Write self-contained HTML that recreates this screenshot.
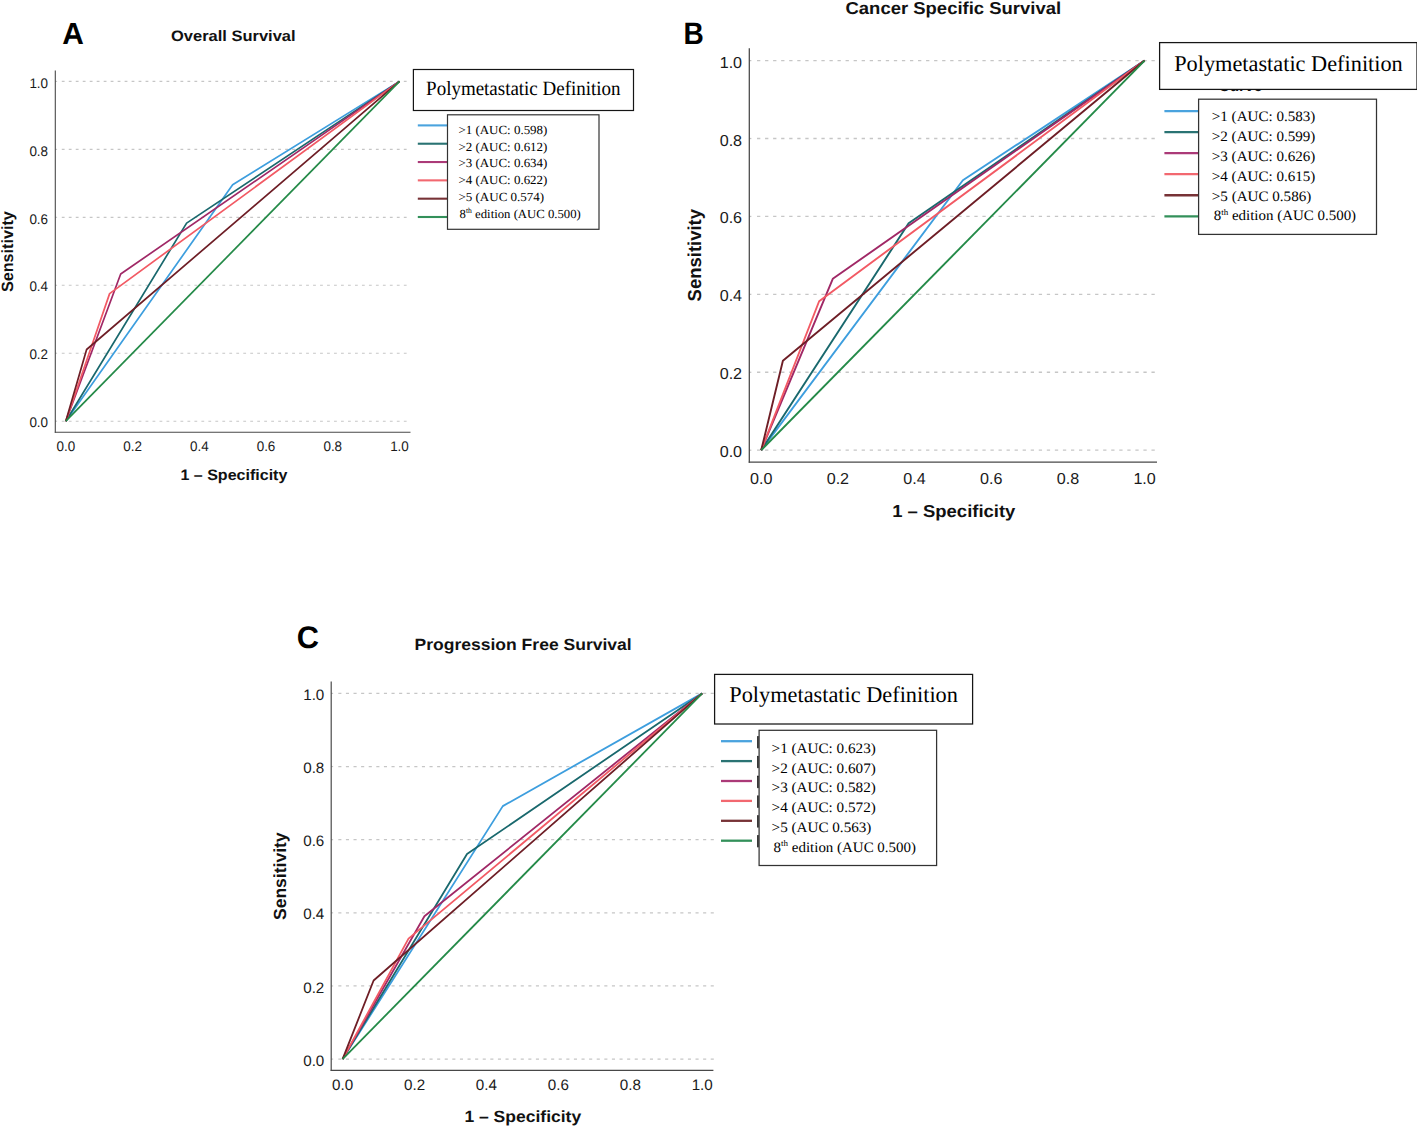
<!DOCTYPE html>
<html><head><meta charset="utf-8"><title>ROC curves</title>
<style>html,body{margin:0;padding:0;background:#fff;}body{width:1417px;height:1126px;overflow:hidden;}svg{display:block;text-rendering:geometricPrecision;}</style>
</head><body>
<svg width="1417" height="1126" viewBox="0 0 1417 1126">
<rect x="0" y="0" width="1417" height="1126" fill="#fff"/>
<line x1="61.8" y1="421.2" x2="407" y2="421.2" stroke="#c6c6c6" stroke-width="1.15" stroke-dasharray="2.8 4.18"/>
<line x1="55.3" y1="421.2" x2="57.1" y2="421.2" stroke="#c2c2c2" stroke-width="1.1"/>
<line x1="61.8" y1="353.24" x2="407" y2="353.24" stroke="#c6c6c6" stroke-width="1.15" stroke-dasharray="2.8 4.18"/>
<line x1="55.3" y1="353.24" x2="57.1" y2="353.24" stroke="#c2c2c2" stroke-width="1.1"/>
<line x1="61.8" y1="285.28" x2="407" y2="285.28" stroke="#c6c6c6" stroke-width="1.15" stroke-dasharray="2.8 4.18"/>
<line x1="55.3" y1="285.28" x2="57.1" y2="285.28" stroke="#c2c2c2" stroke-width="1.1"/>
<line x1="61.8" y1="217.32" x2="407" y2="217.32" stroke="#c6c6c6" stroke-width="1.15" stroke-dasharray="2.8 4.18"/>
<line x1="55.3" y1="217.32" x2="57.1" y2="217.32" stroke="#c2c2c2" stroke-width="1.1"/>
<line x1="61.8" y1="149.36" x2="407" y2="149.36" stroke="#c6c6c6" stroke-width="1.15" stroke-dasharray="2.8 4.18"/>
<line x1="55.3" y1="149.36" x2="57.1" y2="149.36" stroke="#c2c2c2" stroke-width="1.1"/>
<line x1="61.8" y1="81.4" x2="407" y2="81.4" stroke="#c6c6c6" stroke-width="1.15" stroke-dasharray="2.8 4.18"/>
<line x1="55.3" y1="81.4" x2="57.1" y2="81.4" stroke="#c2c2c2" stroke-width="1.1"/>
<line x1="55.3" y1="70.6" x2="55.3" y2="432.8" stroke="#484848" stroke-width="1.1"/>
<line x1="54.8" y1="432.3" x2="410.5" y2="432.3" stroke="#484848" stroke-width="1.1"/>
<text x="48.1" y="427.2" font-family='"Liberation Sans", sans-serif' font-size="14" font-weight="normal" text-anchor="end" fill="#1a1a1a" textLength="18.7" lengthAdjust="spacingAndGlyphs">0.0</text>
<text x="65.8" y="450.7" font-family='"Liberation Sans", sans-serif' font-size="14" font-weight="normal" text-anchor="middle" fill="#1a1a1a" textLength="18.7" lengthAdjust="spacingAndGlyphs">0.0</text>
<text x="48.1" y="359.32" font-family='"Liberation Sans", sans-serif' font-size="14" font-weight="normal" text-anchor="end" fill="#1a1a1a" textLength="18.7" lengthAdjust="spacingAndGlyphs">0.2</text>
<text x="132.54" y="450.7" font-family='"Liberation Sans", sans-serif' font-size="14" font-weight="normal" text-anchor="middle" fill="#1a1a1a" textLength="18.7" lengthAdjust="spacingAndGlyphs">0.2</text>
<text x="48.1" y="291.44" font-family='"Liberation Sans", sans-serif' font-size="14" font-weight="normal" text-anchor="end" fill="#1a1a1a" textLength="18.7" lengthAdjust="spacingAndGlyphs">0.4</text>
<text x="199.28" y="450.7" font-family='"Liberation Sans", sans-serif' font-size="14" font-weight="normal" text-anchor="middle" fill="#1a1a1a" textLength="18.7" lengthAdjust="spacingAndGlyphs">0.4</text>
<text x="48.1" y="223.56" font-family='"Liberation Sans", sans-serif' font-size="14" font-weight="normal" text-anchor="end" fill="#1a1a1a" textLength="18.7" lengthAdjust="spacingAndGlyphs">0.6</text>
<text x="266.02" y="450.7" font-family='"Liberation Sans", sans-serif' font-size="14" font-weight="normal" text-anchor="middle" fill="#1a1a1a" textLength="18.7" lengthAdjust="spacingAndGlyphs">0.6</text>
<text x="48.1" y="155.68" font-family='"Liberation Sans", sans-serif' font-size="14" font-weight="normal" text-anchor="end" fill="#1a1a1a" textLength="18.7" lengthAdjust="spacingAndGlyphs">0.8</text>
<text x="332.76" y="450.7" font-family='"Liberation Sans", sans-serif' font-size="14" font-weight="normal" text-anchor="middle" fill="#1a1a1a" textLength="18.7" lengthAdjust="spacingAndGlyphs">0.8</text>
<text x="48.1" y="87.8" font-family='"Liberation Sans", sans-serif' font-size="14" font-weight="normal" text-anchor="end" fill="#1a1a1a" textLength="18.7" lengthAdjust="spacingAndGlyphs">1.0</text>
<text x="399.5" y="450.7" font-family='"Liberation Sans", sans-serif' font-size="14" font-weight="normal" text-anchor="middle" fill="#1a1a1a" textLength="18.7" lengthAdjust="spacingAndGlyphs">1.0</text>
<polyline points="65.8,421.2 232.65,184.8 399.5,81.4" fill="none" stroke="#3d9ede" stroke-width="1.7" stroke-linejoin="round"/>
<polyline points="65.8,421.2 186.6,223.1 399.5,81.4" fill="none" stroke="#19686d" stroke-width="1.7" stroke-linejoin="round"/>
<polyline points="65.8,421.2 120.69,274 399.5,81.4" fill="none" stroke="#a02866" stroke-width="1.7" stroke-linejoin="round"/>
<polyline points="65.8,421.2 109.61,293.61 399.5,81.4" fill="none" stroke="#f25a64" stroke-width="1.7" stroke-linejoin="round"/>
<polyline points="65.8,421.2 86.62,349.5 399.5,81.4" fill="none" stroke="#6e1e26" stroke-width="1.7" stroke-linejoin="round"/>
<polyline points="65.8,421.2 399.5,81.4" fill="none" stroke="#248a48" stroke-width="1.7" stroke-linejoin="round"/>
<text x="171" y="40.8" font-family='"Liberation Sans", sans-serif' font-size="15.1" font-weight="bold" text-anchor="start" fill="#111" textLength="124.6" lengthAdjust="spacingAndGlyphs">Overall Survival</text>
<text x="180.4" y="479.6" font-family='"Liberation Sans", sans-serif' font-size="15.1" font-weight="bold" text-anchor="start" fill="#111" textLength="107" lengthAdjust="spacingAndGlyphs">1 &#8211; Specificity</text>
<text transform="translate(13.4,292) rotate(-90)" x="0" y="0" font-family='"Liberation Sans", sans-serif' font-size="16.3" font-weight="bold" fill="#111" textLength="80.8" lengthAdjust="spacingAndGlyphs">Sensitivity</text>
<text x="62.2" y="43.8" font-family='"Liberation Sans", sans-serif' font-size="30.4" font-weight="bold" text-anchor="start" fill="#000" textLength="21.6" lengthAdjust="spacingAndGlyphs">A</text>
<line x1="417.8" y1="125.4" x2="447.5" y2="125.4" stroke="#4aa3de" stroke-width="2.1"/>
<line x1="417.8" y1="143.72" x2="447.5" y2="143.72" stroke="#2a7373" stroke-width="2.1"/>
<line x1="417.8" y1="162.04" x2="447.5" y2="162.04" stroke="#ab3a78" stroke-width="2.1"/>
<line x1="417.8" y1="180.36" x2="447.5" y2="180.36" stroke="#f26870" stroke-width="2.1"/>
<line x1="417.8" y1="198.68" x2="447.5" y2="198.68" stroke="#773236" stroke-width="2.1"/>
<line x1="417.8" y1="217" x2="447.5" y2="217" stroke="#33905a" stroke-width="2.1"/>
<rect x="413.4" y="69.5" width="220.1" height="41" fill="#fff" stroke="#151515" stroke-width="1.2"/>
<text x="426.1" y="94.6" font-family='"Liberation Serif", serif' font-size="20.3" font-weight="normal" text-anchor="start" fill="#000" textLength="194.4" lengthAdjust="spacingAndGlyphs">Polymetastatic Definition</text>
<rect x="447.5" y="114.8" width="151.5" height="114.5" fill="#fff" stroke="#333" stroke-width="1.2"/>
<text x="458.4" y="133.7" font-family='"Liberation Serif", serif' font-size="12.4" font-weight="normal" text-anchor="start" fill="#000" textLength="89" lengthAdjust="spacingAndGlyphs">&gt;1 (AUC: 0.598)</text>
<text x="458.4" y="150.55" font-family='"Liberation Serif", serif' font-size="12.4" font-weight="normal" text-anchor="start" fill="#000" textLength="89" lengthAdjust="spacingAndGlyphs">&gt;2 (AUC: 0.612)</text>
<text x="458.4" y="167.4" font-family='"Liberation Serif", serif' font-size="12.4" font-weight="normal" text-anchor="start" fill="#000" textLength="89" lengthAdjust="spacingAndGlyphs">&gt;3 (AUC: 0.634)</text>
<text x="458.4" y="184.25" font-family='"Liberation Serif", serif' font-size="12.4" font-weight="normal" text-anchor="start" fill="#000" textLength="89" lengthAdjust="spacingAndGlyphs">&gt;4 (AUC: 0.622)</text>
<text x="458.4" y="201.1" font-family='"Liberation Serif", serif' font-size="12.4" font-weight="normal" text-anchor="start" fill="#000" textLength="85.8" lengthAdjust="spacingAndGlyphs">&gt;5 (AUC 0.574)</text>
<text x="459.6" y="217.95" font-family='"Liberation Serif", serif' font-size="12.4" font-weight="normal" text-anchor="start" fill="#000" textLength="121.2" lengthAdjust="spacingAndGlyphs">8<tspan font-size="7.44" dy="-4.71">th</tspan><tspan dy="4.71"> edition (AUC 0.500)</tspan></text>
<line x1="757.01" y1="450.2" x2="1155.5" y2="450.2" stroke="#c6c6c6" stroke-width="1.32" stroke-dasharray="3.3 4.75"/>
<line x1="749.3" y1="450.2" x2="751.36" y2="450.2" stroke="#c2c2c2" stroke-width="1.26"/>
<line x1="757.01" y1="372.28" x2="1155.5" y2="372.28" stroke="#c6c6c6" stroke-width="1.32" stroke-dasharray="3.3 4.75"/>
<line x1="749.3" y1="372.28" x2="751.36" y2="372.28" stroke="#c2c2c2" stroke-width="1.26"/>
<line x1="757.01" y1="294.36" x2="1155.5" y2="294.36" stroke="#c6c6c6" stroke-width="1.32" stroke-dasharray="3.3 4.75"/>
<line x1="749.3" y1="294.36" x2="751.36" y2="294.36" stroke="#c2c2c2" stroke-width="1.26"/>
<line x1="757.01" y1="216.44" x2="1155.5" y2="216.44" stroke="#c6c6c6" stroke-width="1.32" stroke-dasharray="3.3 4.75"/>
<line x1="749.3" y1="216.44" x2="751.36" y2="216.44" stroke="#c2c2c2" stroke-width="1.26"/>
<line x1="757.01" y1="138.52" x2="1155.5" y2="138.52" stroke="#c6c6c6" stroke-width="1.32" stroke-dasharray="3.3 4.75"/>
<line x1="749.3" y1="138.52" x2="751.36" y2="138.52" stroke="#c2c2c2" stroke-width="1.26"/>
<line x1="757.01" y1="60.6" x2="1155.5" y2="60.6" stroke="#c6c6c6" stroke-width="1.32" stroke-dasharray="3.3 4.75"/>
<line x1="749.3" y1="60.6" x2="751.36" y2="60.6" stroke="#c2c2c2" stroke-width="1.26"/>
<line x1="749.3" y1="48.3" x2="749.3" y2="462.67" stroke="#484848" stroke-width="1.26"/>
<line x1="748.73" y1="462.1" x2="1157" y2="462.1" stroke="#484848" stroke-width="1.26"/>
<text x="742.1" y="456.6" font-family='"Liberation Sans", sans-serif' font-size="15.9" font-weight="normal" text-anchor="end" fill="#1a1a1a" textLength="22.4" lengthAdjust="spacingAndGlyphs">0.0</text>
<text x="761.2" y="483.6" font-family='"Liberation Sans", sans-serif' font-size="15.9" font-weight="normal" text-anchor="middle" fill="#1a1a1a" textLength="22.4" lengthAdjust="spacingAndGlyphs">0.0</text>
<text x="742.1" y="378.83" font-family='"Liberation Sans", sans-serif' font-size="15.9" font-weight="normal" text-anchor="end" fill="#1a1a1a" textLength="22.4" lengthAdjust="spacingAndGlyphs">0.2</text>
<text x="837.88" y="483.6" font-family='"Liberation Sans", sans-serif' font-size="15.9" font-weight="normal" text-anchor="middle" fill="#1a1a1a" textLength="22.4" lengthAdjust="spacingAndGlyphs">0.2</text>
<text x="742.1" y="301.01" font-family='"Liberation Sans", sans-serif' font-size="15.9" font-weight="normal" text-anchor="end" fill="#1a1a1a" textLength="22.4" lengthAdjust="spacingAndGlyphs">0.4</text>
<text x="914.56" y="483.6" font-family='"Liberation Sans", sans-serif' font-size="15.9" font-weight="normal" text-anchor="middle" fill="#1a1a1a" textLength="22.4" lengthAdjust="spacingAndGlyphs">0.4</text>
<text x="742.1" y="222.84" font-family='"Liberation Sans", sans-serif' font-size="15.9" font-weight="normal" text-anchor="end" fill="#1a1a1a" textLength="22.4" lengthAdjust="spacingAndGlyphs">0.6</text>
<text x="991.24" y="483.6" font-family='"Liberation Sans", sans-serif' font-size="15.9" font-weight="normal" text-anchor="middle" fill="#1a1a1a" textLength="22.4" lengthAdjust="spacingAndGlyphs">0.6</text>
<text x="742.1" y="146.12" font-family='"Liberation Sans", sans-serif' font-size="15.9" font-weight="normal" text-anchor="end" fill="#1a1a1a" textLength="22.4" lengthAdjust="spacingAndGlyphs">0.8</text>
<text x="1067.92" y="483.6" font-family='"Liberation Sans", sans-serif' font-size="15.9" font-weight="normal" text-anchor="middle" fill="#1a1a1a" textLength="22.4" lengthAdjust="spacingAndGlyphs">0.8</text>
<text x="742.1" y="68.1" font-family='"Liberation Sans", sans-serif' font-size="15.9" font-weight="normal" text-anchor="end" fill="#1a1a1a" textLength="22.4" lengthAdjust="spacingAndGlyphs">1.0</text>
<text x="1144.6" y="483.6" font-family='"Liberation Sans", sans-serif' font-size="15.9" font-weight="normal" text-anchor="middle" fill="#1a1a1a" textLength="22.4" lengthAdjust="spacingAndGlyphs">1.0</text>
<polyline points="761.2,450.2 962.87,180.29 1144.6,60.6" fill="none" stroke="#3d9ede" stroke-width="1.9" stroke-linejoin="round"/>
<polyline points="761.2,450.2 908.62,223.3 1144.6,60.6" fill="none" stroke="#19686d" stroke-width="1.9" stroke-linejoin="round"/>
<polyline points="761.2,450.2 832.78,278.81 1144.6,60.6" fill="none" stroke="#a02866" stroke-width="1.9" stroke-linejoin="round"/>
<polyline points="761.2,450.2 819.13,301.22 1144.6,60.6" fill="none" stroke="#f25a64" stroke-width="1.9" stroke-linejoin="round"/>
<polyline points="761.2,450.2 782.9,360.79 1144.6,60.6" fill="none" stroke="#6e1e26" stroke-width="1.9" stroke-linejoin="round"/>
<polyline points="761.2,450.2 1144.6,60.6" fill="none" stroke="#248a48" stroke-width="1.9" stroke-linejoin="round"/>
<text x="845.5" y="14.2" font-family='"Liberation Sans", sans-serif' font-size="17.3" font-weight="bold" text-anchor="start" fill="#111" textLength="215.6" lengthAdjust="spacingAndGlyphs">Cancer Specific Survival</text>
<text x="892.2" y="516.8" font-family='"Liberation Sans", sans-serif' font-size="17.3" font-weight="bold" text-anchor="start" fill="#111" textLength="123.2" lengthAdjust="spacingAndGlyphs">1 &#8211; Specificity</text>
<text transform="translate(701.1,301.4) rotate(-90)" x="0" y="0" font-family='"Liberation Sans", sans-serif' font-size="18.7" font-weight="bold" fill="#111" textLength="92.4" lengthAdjust="spacingAndGlyphs">Sensitivity</text>
<text x="683.6" y="43.6" font-family='"Liberation Sans", sans-serif' font-size="31" font-weight="bold" text-anchor="start" fill="#000" textLength="20.3" lengthAdjust="spacingAndGlyphs">B</text>
<line x1="1164.4" y1="111.1" x2="1198.5" y2="111.1" stroke="#4aa3de" stroke-width="2.3"/>
<line x1="1164.4" y1="132.14" x2="1198.5" y2="132.14" stroke="#2a7373" stroke-width="2.3"/>
<line x1="1164.4" y1="153.18" x2="1198.5" y2="153.18" stroke="#ab3a78" stroke-width="2.3"/>
<line x1="1164.4" y1="174.22" x2="1198.5" y2="174.22" stroke="#f26870" stroke-width="2.3"/>
<line x1="1164.4" y1="195.26" x2="1198.5" y2="195.26" stroke="#773236" stroke-width="2.3"/>
<line x1="1164.4" y1="216.3" x2="1198.5" y2="216.3" stroke="#33905a" stroke-width="2.3"/>
<rect x="1159.6" y="42.6" width="257.4" height="46.8" fill="#fff" stroke="#151515" stroke-width="1.25"/>
<text x="1174.2" y="71" font-family='"Liberation Serif", serif' font-size="22.5" font-weight="normal" text-anchor="start" fill="#000" textLength="228.6" lengthAdjust="spacingAndGlyphs">Polymetastatic Definition</text>
<rect x="1198.6" y="99.2" width="177.9" height="135.2" fill="#fff" stroke="#333" stroke-width="1.25"/>
<text x="1211.8" y="121.2" font-family='"Liberation Serif", serif' font-size="14.4" font-weight="normal" text-anchor="start" fill="#000" textLength="103.6" lengthAdjust="spacingAndGlyphs">&gt;1 (AUC: 0.583)</text>
<text x="1211.8" y="141.04" font-family='"Liberation Serif", serif' font-size="14.4" font-weight="normal" text-anchor="start" fill="#000" textLength="103.6" lengthAdjust="spacingAndGlyphs">&gt;2 (AUC: 0.599)</text>
<text x="1211.8" y="160.88" font-family='"Liberation Serif", serif' font-size="14.4" font-weight="normal" text-anchor="start" fill="#000" textLength="103.6" lengthAdjust="spacingAndGlyphs">&gt;3 (AUC: 0.626)</text>
<text x="1211.8" y="180.72" font-family='"Liberation Serif", serif' font-size="14.4" font-weight="normal" text-anchor="start" fill="#000" textLength="103.6" lengthAdjust="spacingAndGlyphs">&gt;4 (AUC: 0.615)</text>
<text x="1211.8" y="200.56" font-family='"Liberation Serif", serif' font-size="14.4" font-weight="normal" text-anchor="start" fill="#000" textLength="99.5" lengthAdjust="spacingAndGlyphs">&gt;5 (AUC 0.586)</text>
<text x="1213.7" y="220.4" font-family='"Liberation Serif", serif' font-size="14.4" font-weight="normal" text-anchor="start" fill="#000" textLength="142.4" lengthAdjust="spacingAndGlyphs">8<tspan font-size="8.64" dy="-5.47">th</tspan><tspan dy="5.47"> edition (AUC 0.500)</tspan></text>
<line x1="338.31" y1="1059.1" x2="713.8" y2="1059.1" stroke="#c6c6c6" stroke-width="1.24" stroke-dasharray="3.1 4.5"/>
<line x1="331.2" y1="1059.1" x2="333.14" y2="1059.1" stroke="#c2c2c2" stroke-width="1.18"/>
<line x1="338.31" y1="985.96" x2="713.8" y2="985.96" stroke="#c6c6c6" stroke-width="1.24" stroke-dasharray="3.1 4.5"/>
<line x1="331.2" y1="985.96" x2="333.14" y2="985.96" stroke="#c2c2c2" stroke-width="1.18"/>
<line x1="338.31" y1="912.82" x2="713.8" y2="912.82" stroke="#c6c6c6" stroke-width="1.24" stroke-dasharray="3.1 4.5"/>
<line x1="331.2" y1="912.82" x2="333.14" y2="912.82" stroke="#c2c2c2" stroke-width="1.18"/>
<line x1="338.31" y1="839.68" x2="713.8" y2="839.68" stroke="#c6c6c6" stroke-width="1.24" stroke-dasharray="3.1 4.5"/>
<line x1="331.2" y1="839.68" x2="333.14" y2="839.68" stroke="#c2c2c2" stroke-width="1.18"/>
<line x1="338.31" y1="766.54" x2="713.8" y2="766.54" stroke="#c6c6c6" stroke-width="1.24" stroke-dasharray="3.1 4.5"/>
<line x1="331.2" y1="766.54" x2="333.14" y2="766.54" stroke="#c2c2c2" stroke-width="1.18"/>
<line x1="338.31" y1="693.4" x2="713.8" y2="693.4" stroke="#c6c6c6" stroke-width="1.24" stroke-dasharray="3.1 4.5"/>
<line x1="331.2" y1="693.4" x2="333.14" y2="693.4" stroke="#c2c2c2" stroke-width="1.18"/>
<line x1="331.2" y1="681.5" x2="331.2" y2="1070.94" stroke="#484848" stroke-width="1.18"/>
<line x1="330.66" y1="1070.4" x2="713.4" y2="1070.4" stroke="#484848" stroke-width="1.18"/>
<text x="324.3" y="1066.1" font-family='"Liberation Sans", sans-serif' font-size="15.1" font-weight="normal" text-anchor="end" fill="#1a1a1a" textLength="21.1" lengthAdjust="spacingAndGlyphs">0.0</text>
<text x="342.6" y="1090.4" font-family='"Liberation Sans", sans-serif' font-size="15.1" font-weight="normal" text-anchor="middle" fill="#1a1a1a" textLength="21.1" lengthAdjust="spacingAndGlyphs">0.0</text>
<text x="324.3" y="992.78" font-family='"Liberation Sans", sans-serif' font-size="15.1" font-weight="normal" text-anchor="end" fill="#1a1a1a" textLength="21.1" lengthAdjust="spacingAndGlyphs">0.2</text>
<text x="414.52" y="1090.4" font-family='"Liberation Sans", sans-serif' font-size="15.1" font-weight="normal" text-anchor="middle" fill="#1a1a1a" textLength="21.1" lengthAdjust="spacingAndGlyphs">0.2</text>
<text x="324.3" y="919.46" font-family='"Liberation Sans", sans-serif' font-size="15.1" font-weight="normal" text-anchor="end" fill="#1a1a1a" textLength="21.1" lengthAdjust="spacingAndGlyphs">0.4</text>
<text x="486.44" y="1090.4" font-family='"Liberation Sans", sans-serif' font-size="15.1" font-weight="normal" text-anchor="middle" fill="#1a1a1a" textLength="21.1" lengthAdjust="spacingAndGlyphs">0.4</text>
<text x="324.3" y="846.14" font-family='"Liberation Sans", sans-serif' font-size="15.1" font-weight="normal" text-anchor="end" fill="#1a1a1a" textLength="21.1" lengthAdjust="spacingAndGlyphs">0.6</text>
<text x="558.36" y="1090.4" font-family='"Liberation Sans", sans-serif' font-size="15.1" font-weight="normal" text-anchor="middle" fill="#1a1a1a" textLength="21.1" lengthAdjust="spacingAndGlyphs">0.6</text>
<text x="324.3" y="772.82" font-family='"Liberation Sans", sans-serif' font-size="15.1" font-weight="normal" text-anchor="end" fill="#1a1a1a" textLength="21.1" lengthAdjust="spacingAndGlyphs">0.8</text>
<text x="630.28" y="1090.4" font-family='"Liberation Sans", sans-serif' font-size="15.1" font-weight="normal" text-anchor="middle" fill="#1a1a1a" textLength="21.1" lengthAdjust="spacingAndGlyphs">0.8</text>
<text x="324.3" y="699.5" font-family='"Liberation Sans", sans-serif' font-size="15.1" font-weight="normal" text-anchor="end" fill="#1a1a1a" textLength="21.1" lengthAdjust="spacingAndGlyphs">1.0</text>
<text x="702.2" y="1090.4" font-family='"Liberation Sans", sans-serif' font-size="15.1" font-weight="normal" text-anchor="middle" fill="#1a1a1a" textLength="21.1" lengthAdjust="spacingAndGlyphs">1.0</text>
<polyline points="342.6,1059.1 502.8,806.11 702.2,693.4" fill="none" stroke="#3d9ede" stroke-width="1.8" stroke-linejoin="round"/>
<polyline points="342.6,1059.1 467.02,854.09 702.2,693.4" fill="none" stroke="#19686d" stroke-width="1.8" stroke-linejoin="round"/>
<polyline points="342.6,1059.1 424.41,916.18 702.2,693.4" fill="none" stroke="#a02866" stroke-width="1.8" stroke-linejoin="round"/>
<polyline points="342.6,1059.1 408.51,938.6 702.2,693.4" fill="none" stroke="#f25a64" stroke-width="1.8" stroke-linejoin="round"/>
<polyline points="342.6,1059.1 373.6,980.51 702.2,693.4" fill="none" stroke="#6e1e26" stroke-width="1.8" stroke-linejoin="round"/>
<polyline points="342.6,1059.1 702.2,693.4" fill="none" stroke="#248a48" stroke-width="1.8" stroke-linejoin="round"/>
<text x="414.5" y="649.7" font-family='"Liberation Sans", sans-serif' font-size="16.25" font-weight="bold" text-anchor="start" fill="#111" textLength="217.2" lengthAdjust="spacingAndGlyphs">Progression Free Survival</text>
<text x="464.4" y="1121.8" font-family='"Liberation Sans", sans-serif' font-size="16.25" font-weight="bold" text-anchor="start" fill="#111" textLength="116.8" lengthAdjust="spacingAndGlyphs">1 &#8211; Specificity</text>
<text transform="translate(285.7,920) rotate(-90)" x="0" y="0" font-family='"Liberation Sans", sans-serif' font-size="17.5" font-weight="bold" fill="#111" textLength="87.6" lengthAdjust="spacingAndGlyphs">Sensitivity</text>
<text x="296.8" y="648.3" font-family='"Liberation Sans", sans-serif' font-size="31" font-weight="bold" text-anchor="start" fill="#000" textLength="22.2" lengthAdjust="spacingAndGlyphs">C</text>
<line x1="721" y1="741.2" x2="752" y2="741.2" stroke="#4aa3de" stroke-width="2.3"/>
<line x1="721" y1="761.1" x2="752" y2="761.1" stroke="#2a7373" stroke-width="2.3"/>
<line x1="721" y1="781" x2="752" y2="781" stroke="#ab3a78" stroke-width="2.3"/>
<line x1="721" y1="800.9" x2="752" y2="800.9" stroke="#f26870" stroke-width="2.3"/>
<line x1="721" y1="820.8" x2="752" y2="820.8" stroke="#773236" stroke-width="2.3"/>
<line x1="721" y1="840.7" x2="752" y2="840.7" stroke="#33905a" stroke-width="2.3"/>
<line x1="757.95" y1="736.6" x2="757.95" y2="747.8" stroke="#000" stroke-width="1.45" stroke-linecap="round"/>
<line x1="757.95" y1="756.4" x2="757.95" y2="767.6" stroke="#000" stroke-width="1.45" stroke-linecap="round"/>
<line x1="757.95" y1="776.2" x2="757.95" y2="787.4" stroke="#000" stroke-width="1.45" stroke-linecap="round"/>
<line x1="757.95" y1="796" x2="757.95" y2="807.2" stroke="#000" stroke-width="1.45" stroke-linecap="round"/>
<line x1="757.95" y1="815.8" x2="757.95" y2="827" stroke="#000" stroke-width="1.45" stroke-linecap="round"/>
<line x1="757.95" y1="835.6" x2="757.95" y2="846.8" stroke="#000" stroke-width="1.45" stroke-linecap="round"/>
<rect x="714.6" y="674.4" width="258" height="49.6" fill="#fff" stroke="#151515" stroke-width="1.25"/>
<text x="729.3" y="702.3" font-family='"Liberation Serif", serif' font-size="22.5" font-weight="normal" text-anchor="start" fill="#000" textLength="228.6" lengthAdjust="spacingAndGlyphs">Polymetastatic Definition</text>
<rect x="759.1" y="730.3" width="177.5" height="135.2" fill="#fff" stroke="#333" stroke-width="1.25"/>
<text x="771.6" y="752.7" font-family='"Liberation Serif", serif' font-size="14.4" font-weight="normal" text-anchor="start" fill="#000" textLength="104.2" lengthAdjust="spacingAndGlyphs">&gt;1 (AUC: 0.623)</text>
<text x="771.6" y="772.54" font-family='"Liberation Serif", serif' font-size="14.4" font-weight="normal" text-anchor="start" fill="#000" textLength="104.2" lengthAdjust="spacingAndGlyphs">&gt;2 (AUC: 0.607)</text>
<text x="771.6" y="792.38" font-family='"Liberation Serif", serif' font-size="14.4" font-weight="normal" text-anchor="start" fill="#000" textLength="104.2" lengthAdjust="spacingAndGlyphs">&gt;3 (AUC: 0.582)</text>
<text x="771.6" y="812.22" font-family='"Liberation Serif", serif' font-size="14.4" font-weight="normal" text-anchor="start" fill="#000" textLength="104.2" lengthAdjust="spacingAndGlyphs">&gt;4 (AUC: 0.572)</text>
<text x="771.6" y="832.06" font-family='"Liberation Serif", serif' font-size="14.4" font-weight="normal" text-anchor="start" fill="#000" textLength="99.8" lengthAdjust="spacingAndGlyphs">&gt;5 (AUC 0.563)</text>
<text x="773.6" y="851.9" font-family='"Liberation Serif", serif' font-size="14.4" font-weight="normal" text-anchor="start" fill="#000" textLength="142.4" lengthAdjust="spacingAndGlyphs">8<tspan font-size="8.64" dy="-5.47">th</tspan><tspan dy="5.47"> edition (AUC 0.500)</tspan></text>
<svg x="1215" y="89.6" width="60" height="3" overflow="hidden"><text x="3.6" y="1.3" textLength="43.6" lengthAdjust="spacingAndGlyphs" font-family='"Liberation Sans", sans-serif' font-size="15" font-weight="bold" fill="#111">Curve</text></svg>
</svg>
</body></html>
